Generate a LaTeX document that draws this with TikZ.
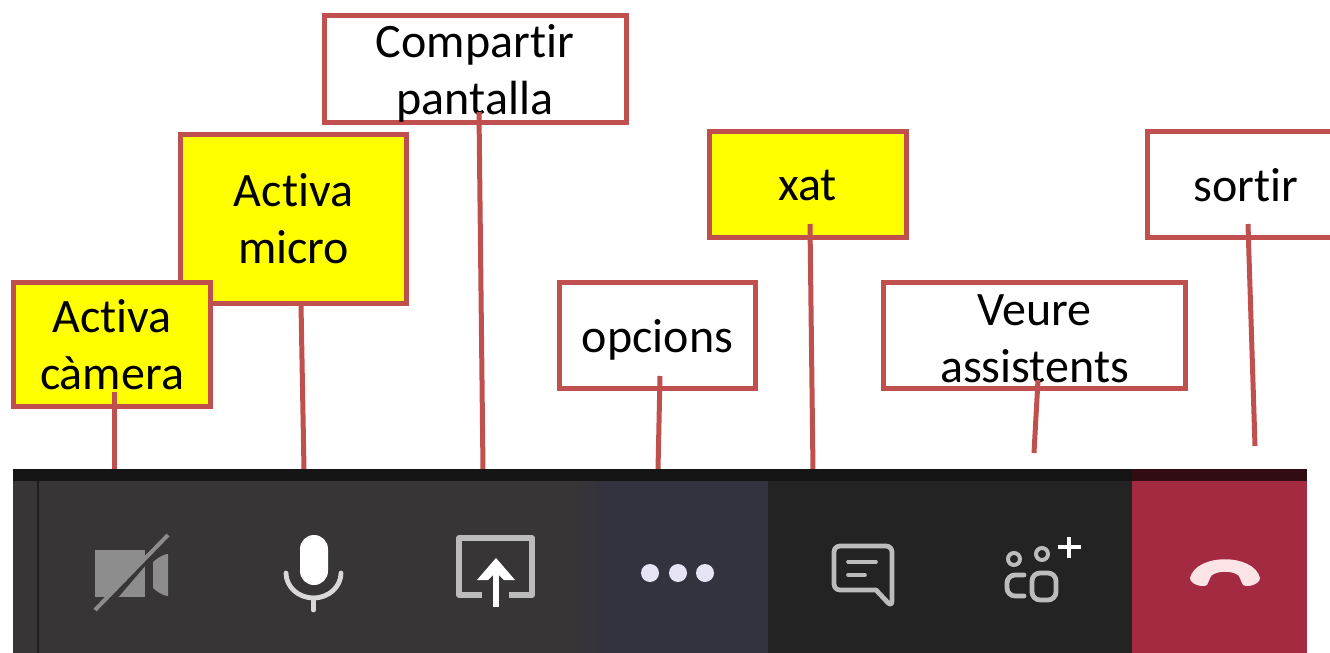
\documentclass[tikz,border=0pt]{standalone}
\usepackage{fontspec}
\setmainfont[RawFeature={-liga;-clig;-dlig}]{Carlito}
\definecolor{redline}{HTML}{C0504D}
\definecolor{pureYellow}{RGB}{255,255,0}
\definecolor{barTop}{HTML}{161516}
\definecolor{barGray}{HTML}{373536}
\definecolor{barPurple}{HTML}{33323F}
\definecolor{barDark}{HTML}{242324}
\definecolor{barRed}{HTML}{A32A40}
\definecolor{iconGray}{HTML}{8E8D8D}
\definecolor{iconLight}{HTML}{BDBCBC}
\definecolor{dotCol}{HTML}{E6E3F5}
\definecolor{phoneCol}{HTML}{FBE3E6}
\tikzset{
  x=0.5pt,y=-0.5pt,
  lab/.style={draw=redline,line width=2.5pt,inner sep=0pt,outer sep=0pt,align=center,
    font=\fontsize{24}{28.5}\selectfont,text=black,miter limit=10},
  yel/.style={lab,fill=pureYellow},
  wht/.style={lab,fill=white},
  lift/.style={execute at begin node={\rule{0pt}{#1}}},
  link/.style={draw=redline,line width=2.5pt},
  iconline/.style={draw=iconLight,line width=2.4pt,line cap=round,line join=round},
}
\begin{document}
\begin{tikzpicture}
\useasboundingbox (0,0) rectangle (1330,653);
\clip (0,0) rectangle (1330,653);
% labels
\node[wht,text height=46pt,text depth=0pt,minimum width=151pt,minimum height=53.5pt] (share) at (475,68.5) {Compar\kern0pt t\kern0pt ir\\pantalla};
\node[yel,minimum width=113pt,minimum height=84.5pt] (mic) at (293.5,219) {Activa\\micro};
\node[yel,minimum width=98.5pt,minimum height=62pt] (cam) at (112,344.5) {Activa\\càmera};
\node[wht,lift=21pt,minimum width=98pt,minimum height=53pt] (opt) at (657.5,335) {opcions};
\node[yel,lift=17pt,minimum width=98.5pt,minimum height=53pt] (chat) at (807.5,184) {xat};
\node[wht,text height=47.5pt,text depth=0pt,minimum width=151pt,minimum height=53pt] (see) at (1034.5,335) {Veure\\assistents};
\node[wht,lift=17.5pt,minimum width=99pt,minimum height=53pt] (out) at (1246,184) {sor\kern0pt t\kern0pt ir};
% connector ends
\coordinate (camA) at (114,392); \coordinate (camB) at (114,470);
\coordinate (micA) at (301,304); \coordinate (micB) at (304,470);
\coordinate (shareA) at (479,112); \coordinate (shareB) at (483,470);
\coordinate (optA) at (660,376); \coordinate (optB) at (658,470);
\coordinate (chatA) at (810,224); \coordinate (chatB) at (813,470);
\coordinate (seeA) at (1038,380); \coordinate (seeB) at (1034,453);
\coordinate (outA) at (1248,224); \coordinate (outB) at (1255,446);
\foreach \n in {cam,mic,share,opt,chat,see,out}{\draw[link] (\n A) -- (\n B);}
% toolbar
\fill[barGray] (13,481) rectangle (590,653);
\fill[left color=barGray,right color=barPurple] (570,481) rectangle (610,653);
\fill[barPurple] (610,481) rectangle (768,653);
\fill[barDark] (768,481) rectangle (1132,653);
\fill[barRed] (1132,481) rectangle (1307,653);
\fill[barTop] (13,469) rectangle (1307,481);
\fill[black!70!barRed] (1132,469) rectangle (1307,481);
\draw[barTop!70!barGray,line width=0.8pt] (38,481) -- (38,653);
% camera icon
\fill[iconGray] (95,550) rectangle (145,597);
\fill[iconGray] (153,562) .. controls (160,556) and (165,554) .. (168,554) -- (168,596) .. controls (165,596) and (160,594) .. (153,588) -- cycle;
\draw[barGray,line width=3pt] (172,530) -- (100,614);
\draw[iconGray,line width=2pt] (168,535) -- (95,610);
% microphone icon
\fill[white,rounded corners=7pt] (300,535) rectangle (328,585);
\draw[iconline,draw=white!85!black] (286,573) arc[start angle=180,end angle=0,x radius=27.5,y radius=25];
\draw[iconline,draw=white!85!black] (313.5,598) -- (313.5,610);
% share icon
\draw[iconline,line width=2.6pt,line cap=butt] (482,595) -- (459,595) -- (459,538) -- (532,538) -- (532,595) -- (509,595);
\draw[white,line width=2.6pt] (496,607) -- (496,562);
\fill[white] (496,558) -- (515,580) -- (504,580) -- (496,572) -- (488,580) -- (477,580) -- cycle;
% dots
\foreach \x in {650,678,705}{\fill[dotCol] (\x,573) ellipse[x radius=9,y radius=9];}
% chat icon
\draw[iconline,rounded corners=3pt] (876,590) -- (834,590) -- (834,546) -- (892,546) -- (892,607) [sharp corners] -- (876,590);
\draw[iconline,line width=1.8pt] (848,562) -- (876,562) (848,575) -- (865,575);
% people icon
\draw[iconline,line width=2pt] (1014,559) circle[radius=6];
\draw[iconline,line width=2pt] (1042,554) circle[radius=6];
\draw[white,line width=1.8pt] (1069,537) -- (1069,558) (1058,547) -- (1081,547);
\draw[iconline,rounded corners=4pt] (1032,573) -- (1032,600) -- (1056,600) -- (1056,573) -- cycle;
\draw[iconline,rounded corners=4pt] (1024,575) -- (1007,575) -- (1007,596) -- (1024,596);
% phone icon
\fill[phoneCol] (1190,578) .. controls (1196,553) and (1254,553) .. (1260,578)
  .. controls (1260,584) and (1248,588) .. (1243,585)
  .. controls (1240,580) and (1240,575) .. (1236,574)
  .. controls (1230,571) and (1220,571) .. (1214,574)
  .. controls (1210,575) and (1210,580) .. (1207,585)
  .. controls (1202,588) and (1190,584) .. (1190,578) -- cycle;
\end{tikzpicture}
\end{document}
